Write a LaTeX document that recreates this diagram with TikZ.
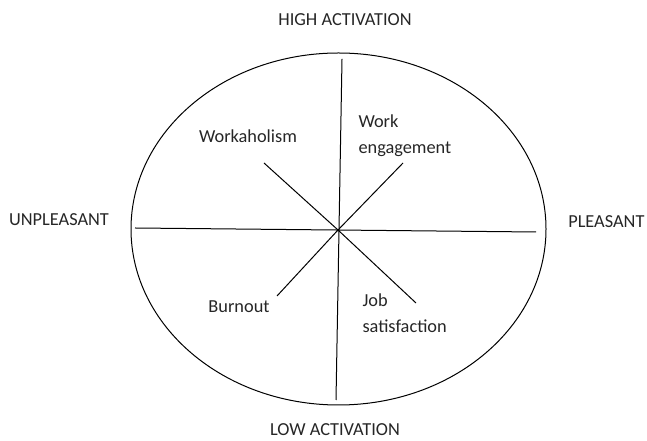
\documentclass[tikz,border=0pt]{standalone}
\usepackage{fontspec}
\setmainfont{Carlito}
\usepackage{tikz}
\usetikzlibrary{positioning}

\begin{document}
\begin{tikzpicture}[x=1bp,y=1bp,line width=1bp,
    lbl/.style={font=\fontsize{18.4}{26}\selectfont,inner sep=0pt,text=black!85},
    item/.style={lbl,align=left,anchor=west}]
  \useasboundingbox (0,0) rectangle (647,441);
  \draw (338.5,212) ellipse [x radius=207.5,y radius=176];

  \coordinate (o)  at (338,211);
  \coordinate (n)  at (342,382);
  \coordinate (s)  at (336,41);
  \coordinate (w)  at (135,213);
  \coordinate (e)  at (536,209);
  \coordinate (nw) at (264,278);
  \coordinate (ne) at (403,278);
  \coordinate (sw) at (277,145);
  \coordinate (se) at (416,138);

  \draw (n) -- (s);
  \draw (w) -- (e);
  \foreach \c in {nw,ne,sw,se}
    \draw (o) -- (\c);

  \node[lbl] (high)  at (345,421) {HIGH ACTIVATION};
  \node[lbl] (low)   at (335,11)  {LOW ACTIVATION};
  \node[lbl] (unpl)  at (59,221)  {UNPLEASANT};
  \node[lbl,anchor=east] (pl) at (645,219) {PLEASANT};

  \node[lbl]  (wah) at (248,305) {Workaholism};
  \node[item] (eng) at (358,305) {Work\\engagement};
  \node[lbl]  (bo)  at (239,134) {Burnout};
  \node[item] (js)  at (362,128) {Job\\satisfaction};
\end{tikzpicture}
\end{document}
